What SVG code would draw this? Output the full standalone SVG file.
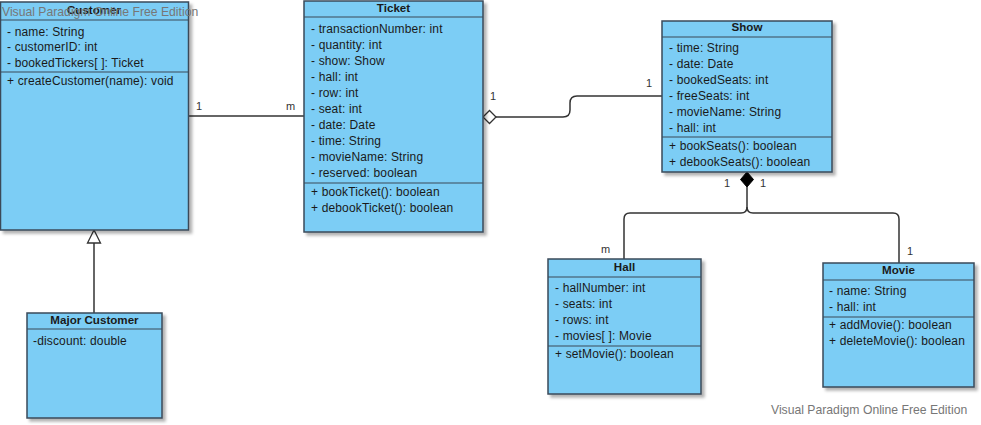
<svg xmlns="http://www.w3.org/2000/svg" width="981" height="425" viewBox="0 0 981 425">
<defs>
<filter id="sh" x="-10%" y="-10%" width="130%" height="130%">
<feDropShadow dx="3" dy="3" stdDeviation="1.5" flood-color="#000" flood-opacity="0.3"/>
</filter>
<style>
.box{fill:#7BCDF5;stroke:#3B4A59;stroke-width:1.5;filter:url(#sh)}
.sep{stroke:#3B4A59;stroke-width:1.2}
.t{font-family:"Liberation Sans",Arial,sans-serif;font-size:12px;letter-spacing:0.15px;fill:#1a1a1a}
.title{font-family:"Liberation Sans",Arial,sans-serif;font-size:11.6px;font-weight:bold;fill:#1a1a1a;text-anchor:middle}
.lbl{font-family:"Liberation Sans",Arial,sans-serif;font-size:11px;fill:#333}
.wm{font-family:"Liberation Sans",Arial,sans-serif;font-size:12.2px;fill:#777}
.ln{fill:none;stroke:#333;stroke-width:1.5}
</style>
</defs>
<g id="connectors">
<path class="ln" d="M188 116 H304"/>
<path class="ln" d="M496 117 H563 Q570 117 570 110 V103 Q570 96 577 96 H662"/>
<polygon points="483,117 489.5,110.5 496,117 489.5,123.5" fill="#fff" stroke="#333" stroke-width="1.3"/>
<path class="ln" d="M747 187 V207 Q747 213 741 213 H630 Q624 213 624 219 V259"/>
<path class="ln" d="M747 207 Q747 213 753 213 H893 Q899 213 899 219 V263"/>
<polygon points="747,172 753.5,179.5 747,187 740.5,179.5" fill="#000" stroke="#000" stroke-width="1"/>
<path class="ln" d="M94 313 V243"/>
<polygon points="94,230 87.5,243 100.5,243" fill="#fff" stroke="#333" stroke-width="1.3"/>
<text class="lbl" x="196" y="110">1</text>
<text class="lbl" x="286" y="110">m</text>
<text class="lbl" x="490" y="100">1</text>
<text class="lbl" x="646" y="87">1</text>
<text class="lbl" x="724" y="187">1</text>
<text class="lbl" x="760" y="187">1</text>
<text class="lbl" x="601" y="253">m</text>
<text class="lbl" x="907" y="255">1</text>
</g>
<g id="customer">
<rect class="box" x="0.5" y="2" width="188" height="228"/>
<line class="sep" x1="0.5" y1="20" x2="188.5" y2="20"/>
<line class="sep" x1="0.5" y1="72" x2="188.5" y2="72"/>
<text class="title" x="94" y="14">Customer</text>
<text class="t" x="7" y="36">- name: String</text>
<text class="t" x="7" y="51">- customerID: int</text>
<text class="t" x="7" y="67">- bookedTickers[ ]: Ticket</text>
<text class="t" x="7" y="85">+ createCustomer(name): void</text>
</g>
<g id="ticket">
<rect class="box" x="304" y="1" width="179" height="231"/>
<line class="sep" x1="304" y1="17" x2="483" y2="17"/>
<line class="sep" x1="304" y1="183" x2="483" y2="183"/>
<text class="title" x="393.5" y="12">Ticket</text>
<text class="t" x="311" y="33">- transactionNumber: int</text>
<text class="t" x="311" y="49">- quantity: int</text>
<text class="t" x="311" y="65">- show: Show</text>
<text class="t" x="311" y="81">- hall: int</text>
<text class="t" x="311" y="97">- row: int</text>
<text class="t" x="311" y="113">- seat: int</text>
<text class="t" x="311" y="129">- date: Date</text>
<text class="t" x="311" y="145">- time: String</text>
<text class="t" x="311" y="161">- movieName: String</text>
<text class="t" x="311" y="177">- reserved: boolean</text>
<text class="t" x="311" y="196">+ bookTicket(): boolean</text>
<text class="t" x="311" y="212">+ debookTicket(): boolean</text>
</g>
<g id="show">
<rect class="box" x="662" y="21" width="170" height="151"/>
<line class="sep" x1="662" y1="37" x2="832" y2="37"/>
<line class="sep" x1="662" y1="137" x2="832" y2="137"/>
<text class="title" x="747" y="31">Show</text>
<text class="t" x="669" y="52">- time: String</text>
<text class="t" x="669" y="68">- date: Date</text>
<text class="t" x="669" y="84">- bookedSeats: int</text>
<text class="t" x="669" y="100">- freeSeats: int</text>
<text class="t" x="669" y="116">- movieName: String</text>
<text class="t" x="669" y="132">- hall: int</text>
<text class="t" x="669" y="150">+ bookSeats(): boolean</text>
<text class="t" x="669" y="166">+ debookSeats(): boolean</text>
</g>
<g id="hall">
<rect class="box" x="548" y="259" width="153" height="135"/>
<line class="sep" x1="548" y1="277" x2="701" y2="277"/>
<line class="sep" x1="548" y1="346" x2="701" y2="346"/>
<text class="title" x="624.5" y="271">Hall</text>
<text class="t" x="555" y="292">- hallNumber: int</text>
<text class="t" x="555" y="308">- seats: int</text>
<text class="t" x="555" y="324">- rows: int</text>
<text class="t" x="555" y="340">- movies[ ]: Movie</text>
<text class="t" x="555" y="358">+ setMovie(): boolean</text>
</g>
<g id="movie">
<rect class="box" x="823" y="263" width="151" height="124"/>
<line class="sep" x1="823" y1="280" x2="974" y2="280"/>
<line class="sep" x1="823" y1="317" x2="974" y2="317"/>
<text class="title" x="898.5" y="274">Movie</text>
<text class="t" x="829" y="295">- name: String</text>
<text class="t" x="829" y="311">- hall: int</text>
<text class="t" x="829" y="329">+ addMovie(): boolean</text>
<text class="t" x="829" y="345">+ deleteMovie(): boolean</text>
</g>
<g id="major-customer">
<rect class="box" x="27" y="313" width="135" height="105"/>
<line class="sep" x1="27" y1="329" x2="162" y2="329"/>
<text class="title" x="94.5" y="324">Major Customer</text>
<text class="t" x="33" y="345">-discount: double</text>
</g>
<text class="wm" x="2" y="16">Visual Paradigm Online Free Edition</text>
<text class="wm" x="771" y="414">Visual Paradigm Online Free Edition</text>
</svg>
